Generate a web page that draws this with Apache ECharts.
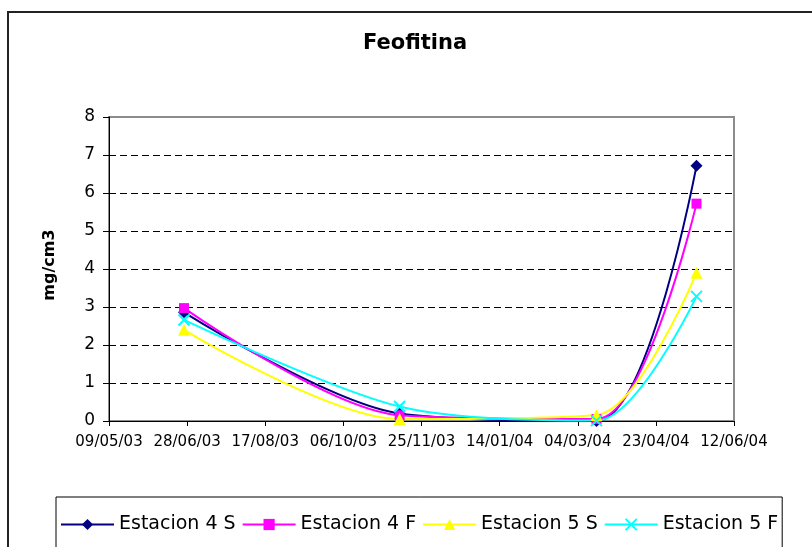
<!DOCTYPE html>
<html>
<head>
<meta charset="utf-8">
<script src="https://cdn.jsdelivr.net/npm/echarts@6/dist/echarts.min.js"></script>
<style>
html,body{margin:0;padding:0;background:#fff;}
#chart{width:812px;height:547px;}
</style>
</head>
<body>
<div id="chart"></div>
<script>
// ---- data ----
var startDate = '2003-05-09';
var sampleDates = ['2003-06-26', '2003-11-11', '2004-03-16', '2004-05-19'];
var est4S = [2.86, 0.20, 0.00, 6.72];
var est4F = [2.97, 0.15, 0.05, 5.72];
var est5S = [2.40, 0.05, 0.16, 3.90];
var est5F = [2.66, 0.38, 0.01, 3.28];
var seriesNames = ['Estacion 4 S', 'Estacion 4 F', 'Estacion 5 S', 'Estacion 5 F'];
var xTickLabels = ['09/05/03', '28/06/03', '17/08/03', '06/10/03', '25/11/03', '14/01/04', '04/03/04', '23/04/04', '12/06/04'];
var yTickLabels = ['0', '1', '2', '3', '4', '5', '6', '7', '8'];
var xStepDays = 50;

function dayOffset(d) {
  return Math.round((Date.parse(d + 'T00:00:00Z') - Date.parse(startDate + 'T00:00:00Z')) / 86400000);
}
function pairs(vals) {
  return sampleDates.map(function (d, i) { return [dayOffset(d), vals[i]]; });
}

var chart = echarts.init(document.getElementById('chart'), null, {renderer: 'canvas'});
var FONT = 'DejaVu Sans';

function mkSeries(name, vals, color, symbol, size, extraItem) {
  return {
    name: name,
    type: 'line',
    data: pairs(vals),
    smooth: 0.3,
    symbol: symbol,
    symbolSize: size,
    showSymbol: true,
    clip: true,
    lineStyle: {color: color, width: 2},
    itemStyle: Object.assign({color: color}, extraItem || {}),
    emphasis: {disabled: true}
  };
}

chart.setOption({
  animation: false,
  backgroundColor: '#ffffff',
  title: {
    text: 'Feofitina',
    left: 363,
    top: 33,
    padding: 0,
    textStyle: {fontFamily: FONT, fontWeight: 'bold', fontSize: 21, color: '#000'}
  },
  graphic: [
    {type: 'rect', shape: {x: 8, y: 12, width: 840, height: 600}, style: {fill: null, stroke: '#222', lineWidth: 2}, silent: true, z: 0},
    {type: 'text', x: 50, y: 265, rotation: Math.PI / 2,
     style: {text: 'mg/cm3', font: 'bold 16px "DejaVu Sans"', fill: '#000', textAlign: 'center', textVerticalAlign: 'middle'}, silent: true}
  ],
  legend: {
    data: seriesNames,
    left: 56,
    top: 497,
    orient: 'horizontal',
    itemWidth: 53,
    itemHeight: 14,
    itemGap: 6,
    padding: [18, 4, 30, 4],
    borderColor: '#000',
    borderWidth: 1,
    textStyle: {fontFamily: FONT, fontSize: 19, color: '#000'}
  },
  grid: {
    left: 109, right: 78, top: 117, bottom: 126,
    show: true, borderColor: '#8c8c8c', borderWidth: 2, backgroundColor: 'transparent',
    containLabel: false
  },
  xAxis: {
    type: 'value',
    min: 0, max: 400, interval: xStepDays,
    axisLine: {show: true, onZero: false, lineStyle: {color: '#000', width: 1}},
    axisTick: {show: true, length: 5, lineStyle: {color: '#000'}},
    splitLine: {show: false},
    axisLabel: {
      margin: 14, fontFamily: FONT, fontSize: 15, color: '#000',
      formatter: function (v) { return xTickLabels[Math.round(v / xStepDays)]; }
    }
  },
  yAxis: {
    type: 'value',
    min: 0, max: 8, interval: 1,
    axisLine: {show: true, lineStyle: {color: '#000', width: 1}},
    axisTick: {show: true, length: 6, lineStyle: {color: '#000'}},
    splitLine: {show: true, showMinLine: false, showMaxLine: false, lineStyle: {color: '#000', type: [7, 4], width: 1}},
    axisLabel: {
      margin: 14, fontFamily: FONT, fontSize: 17, color: '#000',
      formatter: function (v) { return yTickLabels[Math.round(v)]; }
    }
  },
  series: [
    mkSeries(seriesNames[0], est4S, '#000080', 'diamond', 12),
    mkSeries(seriesNames[1], est4F, '#ff00ff', 'rect', 10),
    mkSeries(seriesNames[2], est5S, '#ffff00', 'triangle', 12),
    mkSeries(seriesNames[3], est5F, '#00ffff', 'path://M0,0L10,10M10,0L0,10', 11, {borderColor: '#00ffff', borderWidth: 2})
  ]
});
</script>
</body>
</html>
